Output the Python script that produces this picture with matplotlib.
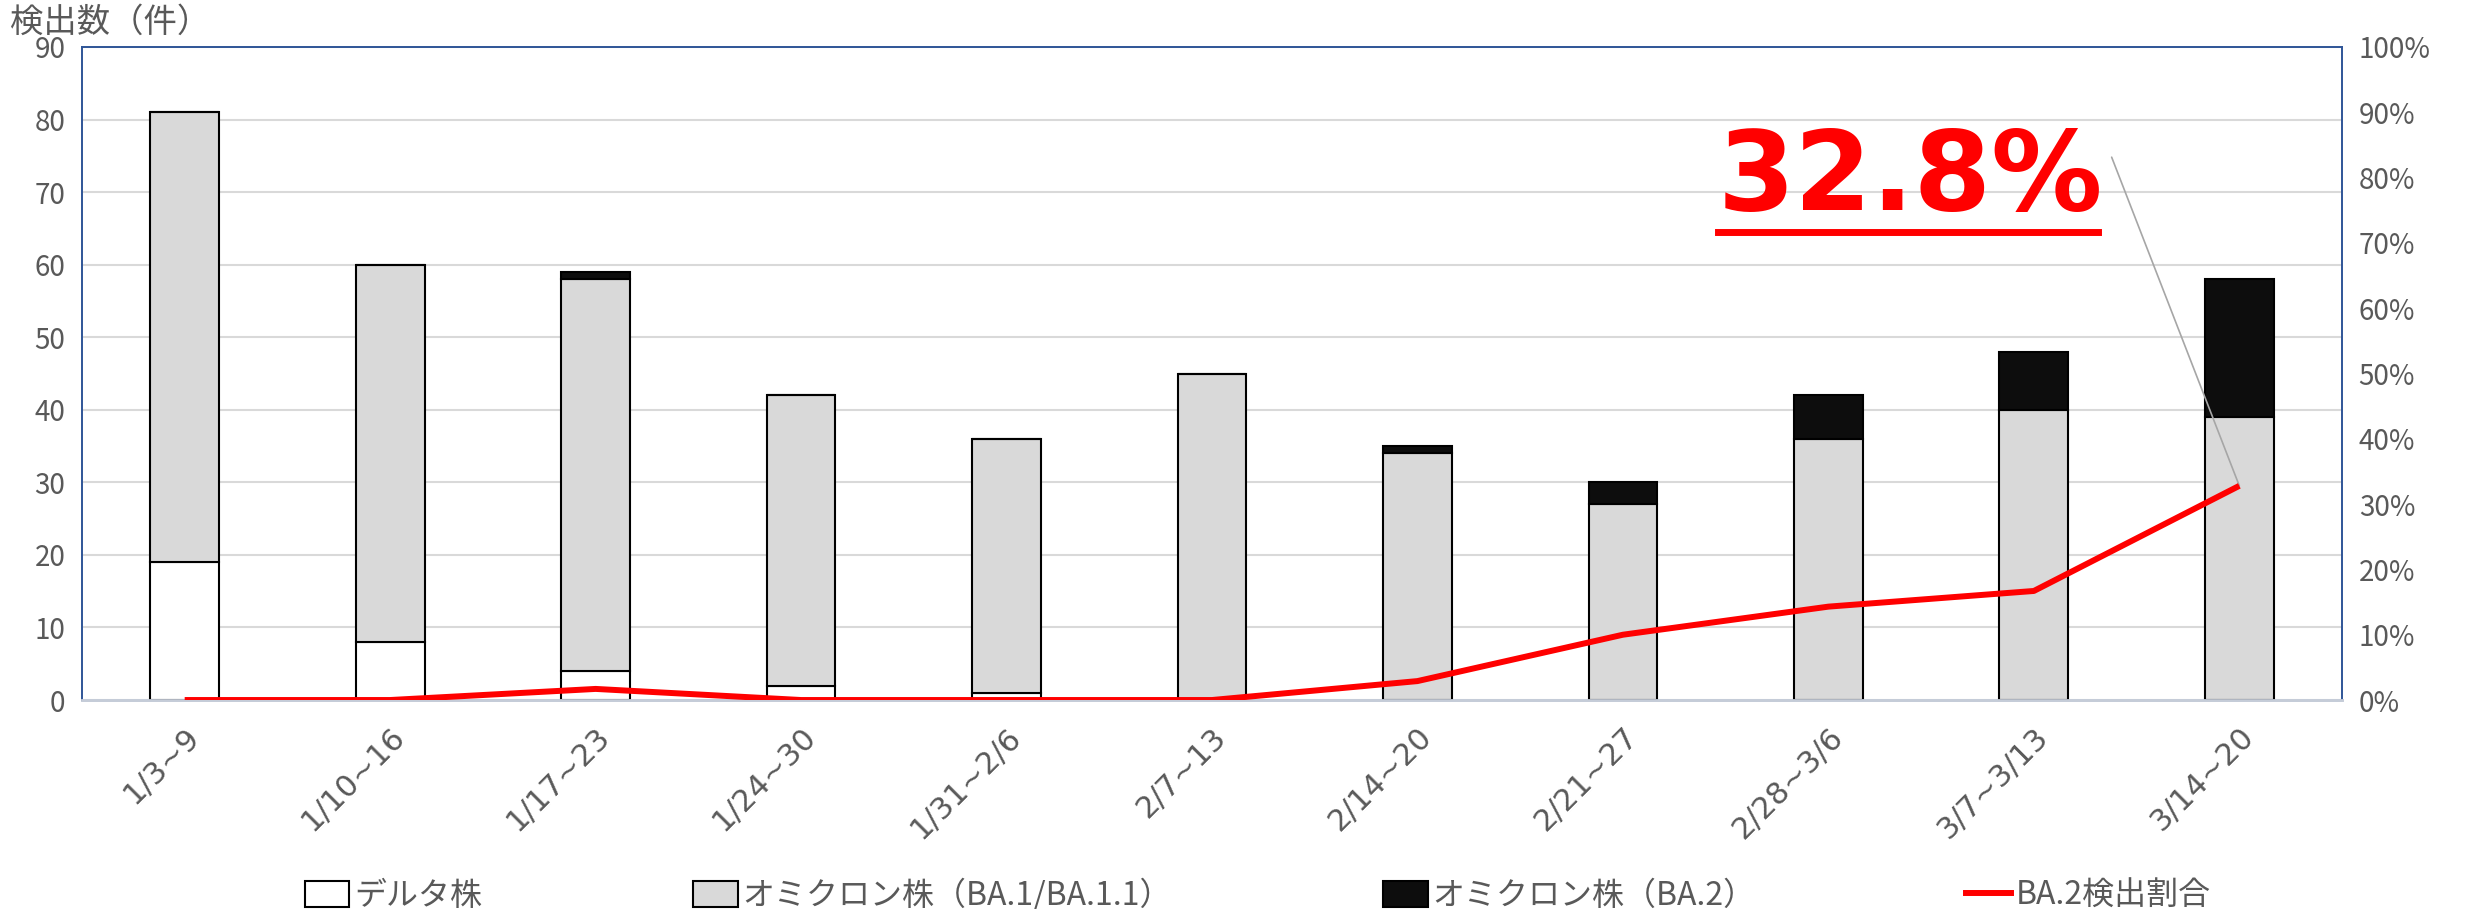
import matplotlib
matplotlib.use("Agg")
import matplotlib.pyplot as plt
from matplotlib.lines import Line2D
from matplotlib.patches import Patch
from matplotlib.text import Text
import numpy as np

plt.rcParams['font.family'] = ['Noto Sans CJK JP', 'DejaVu Sans']

weeks = ["1/3~9", "1/10~16", "1/17~23", "1/24~30", "1/31~2/6", "2/7~13",
         "2/14~20", "2/21~27", "2/28~3/6", "3/7~3/13", "3/14~20"]
delta = [19, 8, 4, 2, 1, 0, 0, 0, 0, 0, 0]
ba1 = [62, 52, 54, 40, 35, 45, 34, 27, 36, 40, 39]
ba2 = [0, 0, 1, 0, 0, 0, 1, 3, 6, 8, 19]
ratio = [0.0, 0.0, 0.017, 0.0, 0.0, 0.0, 0.029, 0.10, 0.143, 0.167, 0.328]

tick_col = "#595959"
frame_col = "#2F5597"

fig = plt.figure(figsize=(24.76, 9.09), dpi=100)
ax = fig.add_axes([0.0331, 0.2299, 0.9128, 0.7184])
ax2 = ax.twinx()

x = np.arange(len(weeks))
w = 0.335
b_delta = np.array(delta)
b_ba1 = b_delta + np.array(ba1)
ax.bar(x, delta, w, color="white", edgecolor="black", linewidth=1.5, zorder=3)
ax.bar(x, ba1, w, bottom=b_delta, color="#D9D9D9", edgecolor="black", linewidth=1.5, zorder=3)
ax.bar(x, ba2, w, bottom=b_ba1, color="#0D0D0D", edgecolor="black", linewidth=1.5, zorder=3)

ax2.plot(x, ratio, color="#FF0000", linewidth=4.3, zorder=4, solid_capstyle="butt")

ax.set_xlim(-0.5, len(weeks) - 0.5)
ax.set_ylim(0, 90)
ax.set_yticks(range(0, 91, 10))
ax2.set_ylim(0, 1.0)
ax2.set_yticks(np.arange(0, 1.01, 0.1))
ax2.set_yticklabels([f"{int(round(v * 100))}%" for v in np.arange(0, 1.01, 0.1)])

ax.grid(axis="y", color="#D9D9D9", linewidth=1.5, zorder=0)
ax.set_axisbelow(True)
ax.set_xticks(x)
ax.set_xticklabels(weeks, rotation=45, ha="right", rotation_mode="anchor",
                   family=["DejaVu Sans"])

for a in (ax, ax2):
    a.tick_params(length=0, labelsize=20, colors=tick_col)
    for s in ("left", "right", "top"):
        a.spines[s].set_color(frame_col)
        a.spines[s].set_linewidth(1.2)
    a.spines["bottom"].set_color("#C5CCD8")
    a.spines["bottom"].set_linewidth(2)
ax.tick_params(axis="x", labelsize=22, pad=16)
ax.tick_params(axis="y", pad=12)
ax2.tick_params(axis="y", pad=12)

fig.text(0.004, 0.976, "検出数（件）", fontsize=24, color=tick_col, va="center", ha="left")

ann = ax2.annotate("32.8%", xy=(x[-1], ratio[-1]), xytext=(1718, 909 - 180),
                   textcoords="figure pixels", ha="left", va="center",
                   fontsize=80, fontweight="bold", color="#FF0000",
                   family=["DejaVu Sans"],
                   arrowprops=dict(arrowstyle="-", color="#A6A6A6", linewidth=1.2,
                                   relpos=(1.0, 0.72), shrinkA=4, shrinkB=0,
                                   connectionstyle="arc,angleA=0,armA=8,angleB=0,armB=0,rad=0"))
fig.canvas.draw()
renderer = fig.canvas.get_renderer()
bb = Text.get_window_extent(ann, renderer).transformed(fig.transFigure.inverted())
uy = 1 - 232 / 909
fig.add_artist(Line2D([bb.x0, bb.x1 - 0.002], [uy, uy], color="#FF0000", linewidth=5,
                      transform=fig.transFigure))

handles = [Patch(facecolor="white", edgecolor="black", linewidth=1.5),
           Patch(facecolor="#D9D9D9", edgecolor="black", linewidth=1.5),
           Patch(facecolor="#0D0D0D", edgecolor="black", linewidth=1.5),
           Line2D([0], [0], color="#FF0000", linewidth=4.3)]
labels = ["デルタ株", "オミクロン株（BA.1/BA.1.1）", "オミクロン株（BA.2）", "BA.2検出割合"]
leg = fig.legend(handles, labels, loc="center", bbox_to_anchor=(0.508, 1 - 895 / 909),
                 ncol=4, frameon=False, fontsize=23, columnspacing=6.6,
                 handlelength=1.4, handletextpad=0.15, handleheight=0.9)
for t in leg.get_texts():
    t.set_color(tick_col)

fig.savefig("out.png", dpi=100)
